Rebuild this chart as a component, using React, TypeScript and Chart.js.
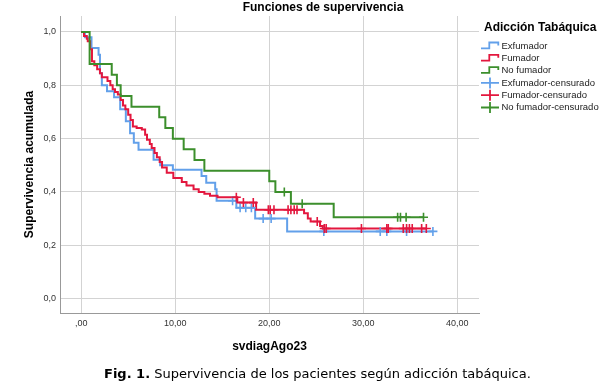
import React, { useEffect, useRef } from "react";
import { Chart, registerables } from "chart.js";

Chart.register(...registerables);

// ---------- Data ----------
const chartTitle = "Funciones de supervivencia";
const xTitle = "svdiagAgo23";
const yTitle = "Supervivencia acumulada";
const legendTitle = "Adicción Tabáquica";
const captionBold = "Fig. 1.";
const captionText = " Supervivencia de los pacientes según adicción tabáquica.";

const groupNames = ["Exfumador", "Fumador", "No fumador"];
const censoredSuffix = "-censurado";

const xTickValues = [0, 10, 20, 30, 40];
const xTickLabels = [",00", "10,00", "20,00", "30,00", "40,00"];
const yTickValues = [0, 0.2, 0.4, 0.6, 0.8, 1.0];
const yTickLabels = ["0,0", "0,2", "0,4", "0,6", "0,8", "1,0"];

// Exfumador
const exTimes = [0, 0.4, 1.1, 1.85, 2.0, 2.2, 2.75, 3.5, 4.15, 4.75, 5.2, 5.6, 6.1, 7.7, 8.4, 9.75, 12.8, 13.3, 14.25, 14.4, 16.5, 18.5, 21.9, 37.4];
const exSurv = [1.0, 0.98, 0.94, 0.915, 0.845, 0.8, 0.778, 0.755, 0.71, 0.665, 0.62, 0.585, 0.558, 0.521, 0.5, 0.483, 0.46, 0.435, 0.41, 0.367, 0.341, 0.3, 0.252, 0.252];
const exCensT = [16.1, 16.9, 17.5, 18.1, 19.35, 20.2, 25.8, 31.8, 32.5, 34.6, 37.4];
const exCensS = [0.367, 0.341, 0.341, 0.341, 0.3, 0.3, 0.252, 0.252, 0.252, 0.252, 0.252];

// Fumador
const fuTimes = [0, 0.3, 0.6, 0.7, 0.95, 1.15, 1.4, 1.7, 2.0, 2.2, 2.8, 3.1, 3.35, 3.6, 3.9, 4.2, 4.45, 4.7, 5.0, 5.25, 5.5, 5.9, 6.45, 6.8, 7.0, 7.3, 7.5, 7.8, 8.05, 8.35, 8.6, 9.1, 9.8, 10.7, 11.2, 11.95, 12.5, 13.1, 13.7, 14.5, 16.6, 18.6, 23.7, 24.1, 24.4, 25.4, 25.7, 36.7];
const fuSurv = [1.0, 0.985, 0.975, 0.965, 0.935, 0.89, 0.875, 0.86, 0.845, 0.83, 0.816, 0.8, 0.785, 0.775, 0.766, 0.745, 0.724, 0.71, 0.69, 0.67, 0.646, 0.64, 0.634, 0.615, 0.596, 0.58, 0.565, 0.546, 0.53, 0.512, 0.492, 0.472, 0.452, 0.437, 0.424, 0.41, 0.4, 0.393, 0.386, 0.38, 0.36, 0.333, 0.32, 0.3, 0.289, 0.272, 0.263, 0.263];
const fuCensT = [16.5, 17.25, 18.3, 19.9, 20.1, 20.5, 22.0, 22.3, 22.65, 22.95, 25.1, 25.85, 26.05, 29.8, 32.5, 32.65, 34.25, 34.6, 34.9, 35.2, 36.2, 36.7];
const fuCensS = [0.38, 0.36, 0.36, 0.333, 0.333, 0.333, 0.333, 0.333, 0.333, 0.333, 0.289, 0.263, 0.263, 0.263, 0.263, 0.263, 0.263, 0.263, 0.263, 0.263, 0.263, 0.263];

// No fumador
const nfTimes = [0, 0.9, 3.25, 3.8, 4.2, 5.35, 8.3, 8.95, 9.75, 10.9, 12.05, 13.1, 20.0, 20.65, 22.3, 26.85, 36.4];
const nfSurv = [1.0, 0.88, 0.84, 0.8, 0.76, 0.72, 0.68, 0.64, 0.6, 0.56, 0.52, 0.48, 0.44, 0.4, 0.356, 0.305, 0.305];
const nfCensT = [21.6, 23.5, 33.65, 33.95, 34.55, 36.4];
const nfCensS = [0.4, 0.356, 0.305, 0.305, 0.305, 0.305];

const colors = ["#62a0ea", "#e3173e", "#3c8f2c"];

// ---------- Helpers ----------
const toPts = (xs: number[], ys: number[]) => xs.map((x, i) => ({ x, y: ys[i] }));

const FONT = '"Liberation Sans", Arial, sans-serif';

const textPlugin = {
  id: "customTexts",
  afterDraw(chart: any) {
    const ctx = chart.ctx as CanvasRenderingContext2D;
    const area = chart.chartArea;
    ctx.save();
    ctx.fillStyle = "#000";
    ctx.textBaseline = "middle";
    ctx.textAlign = "center";
    ctx.font = `bold 12px ${FONT}`;
    ctx.fillText(chartTitle, 323, 8);
    ctx.fillText(xTitle, (area.left + area.right) / 2, 347);
    ctx.save();
    ctx.translate(30, (area.top + area.bottom) / 2);
    ctx.rotate(-Math.PI / 2);
    ctx.fillText(yTitle, 0, 0);
    ctx.restore();

    // Legend
    ctx.textAlign = "left";
    ctx.font = `bold 12px ${FONT}`;
    ctx.fillText(legendTitle, 484, 28);
    ctx.font = `9.5px ${FONT}`;
    const labels = [
      ...groupNames,
      ...groupNames.map((g) => g + censoredSuffix),
    ];
    labels.forEach((lab, i) => {
      const y = 46 + i * 12.3;
      const col = colors[i % 3];
      ctx.strokeStyle = col;
      ctx.lineWidth = 1.8;
      ctx.beginPath();
      if (i < 3) {
        ctx.moveTo(481, y + 2.3);
        ctx.lineTo(489.3, y + 2.3);
        ctx.lineTo(489.3, y - 3.5);
        ctx.lineTo(498.3, y - 3.5);
        ctx.lineTo(498.3, y - 0.5);
      } else {
        ctx.moveTo(481, y);
        ctx.lineTo(499, y);
        ctx.moveTo(490, y - 5.5);
        ctx.lineTo(490, y + 5.5);
      }
      ctx.stroke();
      ctx.fillStyle = "#222";
      ctx.fillText(lab, 501.5, y);
    });

    // Caption
    ctx.fillStyle = "#000";
    ctx.font = 'bold 13px "DejaVu Sans", Verdana, sans-serif';
    const x0 = 104;
    ctx.fillText(captionBold, x0, 375);
    const w = ctx.measureText(captionBold).width;
    ctx.font = '13px "DejaVu Sans", Verdana, sans-serif';
    ctx.fillText(captionText, x0 + w, 375);
    ctx.restore();
  },
};

export default function App() {
  const ref = useRef<HTMLCanvasElement | null>(null);
  useEffect(() => {
    if (!ref.current) return;
    const lineSets = [
      [exTimes, exSurv],
      [fuTimes, fuSurv],
      [nfTimes, nfSurv],
    ];
    const censSets = [
      [exCensT, exCensS],
      [fuCensT, fuCensS],
      [nfCensT, nfCensS],
    ];
    const orders = [6, 5, 4];
    const datasets: any[] = [];
    lineSets.forEach(([xs, ys], i) => {
      datasets.push({
        label: groupNames[i],
        data: toPts(xs, ys),
        showLine: true,
        stepped: "before",
        borderColor: colors[i],
        backgroundColor: colors[i],
        borderWidth: 2,
        pointRadius: 0,
        fill: false,
        order: orders[i],
      });
    });
    censSets.forEach(([xs, ys], i) => {
      datasets.push({
        label: groupNames[i] + censoredSuffix,
        data: toPts(xs, ys),
        showLine: false,
        pointStyle: "cross",
        pointRadius: 4.5,
        pointBorderWidth: 1.6,
        borderColor: colors[i],
        backgroundColor: colors[i],
        order: orders[i] - 3,
      });
    });

    const chart = new Chart(ref.current, {
      type: "scatter",
      data: { datasets },
      options: {
        responsive: false,
        animation: false,
        devicePixelRatio: 1,
        layout: { padding: { left: 0, top: 16, right: 125, bottom: 0 } },
        plugins: {
          legend: { display: false },
          title: { display: false },
          tooltip: { enabled: false },
        },
        scales: {
          x: {
            type: "linear",
            min: -2.25,
            max: 42.3,
            afterBuildTicks: (s: any) => {
              s.ticks = xTickValues.map((v) => ({ value: v }));
            },
            afterFit: (s: any) => {
              s.height = 76;
            },
            ticks: {
              padding: 5,
              color: "#333",
              font: { size: 9, family: FONT },
              maxRotation: 0,
              callback: (v: any) => xTickLabels[xTickValues.indexOf(Number(v))] ?? "",
            },
            grid: { color: "#d3d3d3", lineWidth: 1, drawTicks: false },
            border: { display: true, color: "#999", width: 1 },
          },
          y: {
            type: "linear",
            min: -0.054,
            max: 1.06,
            afterBuildTicks: (s: any) => {
              s.ticks = yTickValues.map((v) => ({ value: v }));
            },
            afterFit: (s: any) => {
              s.width = 60;
            },
            ticks: {
              padding: 4,
              color: "#333",
              font: { size: 9, family: FONT },
              callback: (v: any) => {
                const idx = yTickValues.findIndex((t) => Math.abs(t - Number(v)) < 1e-6);
                return idx >= 0 ? yTickLabels[idx] : "";
              },
            },
            grid: { color: "#d3d3d3", lineWidth: 1, drawTicks: false },
            border: { display: true, color: "#999", width: 1 },
          },
        },
      },
      plugins: [textPlugin],
    });
    return () => chart.destroy();
  }, []);

  return (
    <div
      style={{
        position: "fixed",
        left: 0,
        top: 0,
        width: 604,
        height: 389,
        background: "#fff",
      }}
    >
      <canvas ref={ref} width={604} height={389} style={{ display: "block" }} />
    </div>
  );
}
